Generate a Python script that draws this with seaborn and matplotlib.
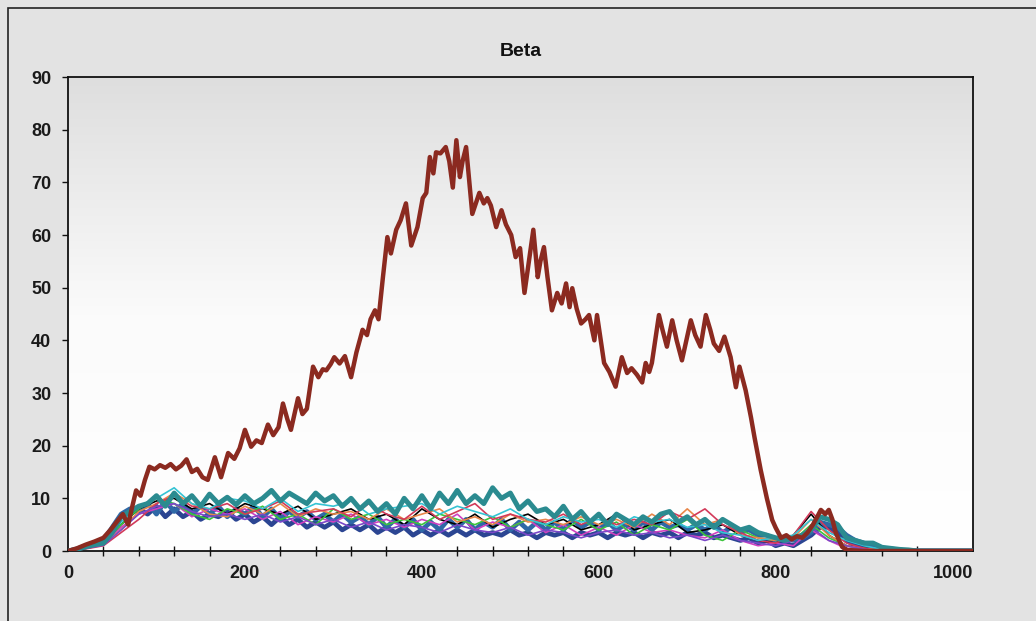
import numpy as np
import pandas as pd
import matplotlib
matplotlib.use("Agg")
import matplotlib.pyplot as plt
from matplotlib.patches import Rectangle
from matplotlib.ticker import MultipleLocator
import seaborn as sns

TITLE = "Beta"

red_x = [0, 10, 20, 30, 40, 48, 55, 62, 68, 72, 77, 82, 87, 92, 98, 104, 110, 116, 122, 128,
         134, 140, 146, 152, 158, 166, 173, 181, 188, 194, 200, 207, 213, 219, 226, 232, 238,
         243, 248, 252, 260, 265, 270, 277, 283, 288, 292, 297, 301, 307, 313, 320, 326, 333,
         338, 342, 347, 351, 356, 361, 365, 371, 376, 382, 388, 395, 401, 405, 409, 413, 416,
         421, 427, 431, 435, 439, 443, 446, 450, 457, 461, 465, 470, 474, 478, 484, 490, 495,
         501, 506, 511, 516, 521, 526, 531, 534, 538, 542, 547, 553, 558, 563, 567, 570, 575,
         580, 585, 589, 595, 598, 606, 612, 619, 626, 632, 637, 643, 649, 653, 657, 660, 668,
         672, 677, 683, 688, 694, 699, 704, 709, 715, 721, 726, 730, 736, 742, 749, 755, 759,
         766, 772, 776, 783, 790, 796, 800, 806, 812, 818, 824, 830, 836, 842, 847, 851, 856,
         860, 864, 868, 875, 880, 900, 1023]
red_y = [0, 0.5, 1.2, 1.8, 2.5, 4, 5.5, 7, 5, 8, 11.5, 10.5, 13.5, 16, 15.5, 16.3, 15.8, 16.5, 15.5, 16.2,
         17.4, 15, 15.6, 14, 13.5, 17.8, 14, 18.6, 17.5, 19.5, 23, 19.8, 21, 20.5, 24, 22, 23.5,
         28, 25, 23, 29, 26, 27, 35, 33, 34.5, 34.3, 35.5, 36.8, 35.6, 37, 33, 37.7, 42,
         41, 44, 45.7, 44, 52, 59.6, 56.5, 61, 62.8, 66, 58, 61.5, 67, 68, 74.8, 71.7, 75.7,
         75.5, 76.7, 74, 69, 78, 71, 74, 76.7, 64, 66, 68, 66, 67, 65.6, 61.5, 64.7, 62,
         60, 55.8, 57.5, 49, 55, 61, 52, 55, 57.7, 52, 45.7, 49, 47, 50.8, 46.3, 49.9, 46,
         43.2, 44, 44.8, 40, 44.8, 35.7, 34, 31.2, 36.8, 33.8, 34.7, 33.5, 32, 35.7, 34, 35.7, 44.8,
         42, 38.8, 43.8, 40, 36.2, 40, 43.8, 41, 38.8, 44.8, 42, 39.4, 38, 40.7, 36.8, 31.1, 35,
         30.5, 25.4, 21.6, 15.4, 10, 5.9, 4.4, 2.5, 3, 2.2, 2.8, 2.5, 3.5, 5, 6.5, 7.8, 7,
         7.8, 6, 3.4, 0.8, 0.2, 0, 0]

# lineas gruesas: una muestra cada 10 unidades (0..960) y el final en 1023
thick_x = list(range(0, 961, 10)) + [1023]
teal_y = [0, 0.3, 0.8, 1.2, 1.5, 3.5, 6.5, 7.5, 8.5, 9,
          10.5, 8.5, 11, 9, 10.5, 8.5, 10.8, 9, 10.2, 8.8,
          10.5, 9, 10, 11.5, 9.5, 11, 10, 9, 11, 9.5,
          10.5, 8.5, 10, 8, 9.5, 7.5, 9, 7, 10, 8,
          10.5, 8, 11, 9, 11.5, 9, 10.5, 9, 12, 10,
          11, 8, 9.5, 7.5, 8, 6.5, 8.5, 6, 7.5, 5.5,
          7, 5, 7, 6, 5, 6.5, 5.5, 7, 7.5, 5.5,
          6.5, 5, 6, 4.5, 6, 5, 4, 4.5, 3.5, 3,
          2.5, 2, 2.5, 3, 4, 6.5, 6, 5, 2.5, 2,
          1.5, 1.5, 0.7, 0.5, 0.3, 0.2, 0, 0]
steel_y = [0, 0.4, 1, 1.5, 2, 4.5, 7, 8, 7.5, 9,
           7, 9.5, 7.5, 9, 7, 8.5, 7, 8.5, 6.5, 8,
           7, 8.5, 6.5, 8, 6, 7.5, 6.5, 7.5, 6, 7,
           5.5, 7, 5.5, 6.5, 5, 6.5, 4.5, 6, 4.5, 6,
           4, 5.5, 4, 6, 4.5, 6, 4, 5.5, 4.5, 6,
           4, 5.5, 4, 5.5, 4, 5.5, 4, 6, 4.5, 5.5,
           4, 5.5, 4, 5, 4, 5.5, 4, 5.5, 4.5, 5,
           4, 5, 4, 5, 3.5, 4.5, 3.5, 4, 3, 3,
           2, 2.5, 2, 2.5, 3.5, 5.5, 5, 4.5, 3, 2,
           1.5, 1, 0.5, 0.4, 0.2, 0, 0, 0]
navy_y = [0, 0.2, 0.8, 1.2, 1.8, 4, 6.5, 7, 8, 7,
          8.5, 6.5, 8, 6.5, 7.5, 6, 7, 6.5, 7.5, 6,
          7, 5.5, 6.5, 5, 6.5, 5, 6, 4.5, 5.5, 4.5,
          5.5, 4, 5, 4, 5, 3.5, 4.5, 3.5, 4.5, 3,
          4, 3, 4, 3, 4, 3, 4, 3, 3.5, 3,
          4, 3, 3.5, 2.5, 3.5, 3, 3.5, 2.5, 3.5, 3,
          3.5, 2.5, 3.5, 3, 3.5, 2.5, 3.5, 3, 3.5, 2.5,
          3.5, 3, 3.5, 2.5, 3, 2.5, 2, 2.5, 1.5, 2,
          1, 1.5, 1, 2, 3, 4.5, 4.5, 3.5, 2, 1,
          1, 0.5, 0.3, 0.2, 0, 0, 0, 0]

# lineas finas: una muestra cada 20 unidades (0..940) y el final en 1023
thin_x = list(range(0, 941, 20)) + [1023]
thin_series = {
    "black": [0, 0.8, 1.5, 5, 8, 9.5, 10, 8, 9, 7,
              9, 8, 7, 8.5, 6, 7, 8, 6, 7, 5,
              8, 6, 5, 7, 4.5, 6, 7, 5, 6, 4,
              5, 7, 4, 5, 6, 3.5, 4, 5, 3, 2,
              1.5, 3, 7, 3, 1, 0.5, 0.2, 0, 0],
    "#d040c0": [0, 0.5, 1.2, 4.5, 7, 8, 9, 6.5, 8, 7,
                8, 6, 7.5, 5, 6.5, 5.5, 7, 5, 6, 4.5,
                6, 5, 7, 4, 5.5, 4.5, 6, 3.5, 5, 3,
                4.5, 3, 5, 3.5, 4, 3, 2.5, 4, 2, 1,
                1.5, 1, 4, 2, 0.5, 0.3, 0, 0, 0],
    "#3cc43c": [0, 0.6, 1.4, 5, 8, 10, 9, 7, 6, 8,
                7, 8.5, 6, 7, 5, 8, 6, 7, 5, 6,
                5, 7, 6, 5, 6.5, 4.5, 6, 5, 4, 6,
                4, 5.5, 3, 5, 4, 6, 3, 2, 4, 2.5,
                2, 2, 5, 2.5, 1, 0.3, 0, 0, 0],
    "#e8874a": [0, 0.7, 1.3, 4, 7.5, 9, 11, 9, 7, 6.5,
                8.5, 7, 9, 6.5, 8, 7, 7.5, 6, 8, 6,
                7, 8, 5.5, 6.5, 5, 7, 5.5, 6, 5, 6.5,
                5, 6, 4.5, 7, 5, 8, 5, 6, 3, 2.5,
                2, 2.5, 6, 3, 1, 0.5, 0.2, 0, 0],
    "#d23a5a": [0, 0.4, 1, 3.5, 6, 9, 10.5, 8.5, 8, 9,
                7, 8, 9.5, 7, 7.5, 8, 6.5, 9, 7, 6,
                8.5, 6, 7.5, 9, 6, 7, 6, 5.5, 7, 5,
                6.5, 5, 6, 5, 7.5, 6, 8, 5, 3.5, 2,
                1.5, 3, 7.5, 4, 1.5, 0.5, 0, 0, 0],
    "#35c3d3": [0, 0.5, 1.6, 5.5, 8.5, 10, 12, 9, 8, 10,
                9.5, 8, 10, 7.5, 9, 8.5, 9.5, 7, 8, 8.5,
                9, 7, 8.5, 7.5, 6.5, 8, 6, 5, 6.5, 5.5,
                6, 4.5, 6.5, 5.5, 6, 4.5, 5, 3.5, 3, 2,
                2.5, 3, 6, 3.5, 2, 1, 0.3, 0, 0],
    "#7a48c8": [0, 0.5, 1.1, 4, 7, 8.5, 9, 7.5, 6.5, 7,
                6, 7, 5.5, 6.5, 5, 6, 4.5, 5.5, 4, 5,
                4.5, 3.5, 5, 4, 3.5, 4.5, 3, 4, 3.5, 2.5,
                3.5, 4, 3, 3.5, 2.5, 3, 2, 3, 2, 1.5,
                1, 2, 4.5, 2, 1, 0.3, 0, 0, 0],
}

X_TICKS = [0, 200, 400, 600, 800, 1000]
Y_TICKS = [0, 10, 20, 30, 40, 50, 60, 70, 80, 90]


def draw_chart():
    sns.set_theme(style="white")
    plt.rcParams["font.family"] = ["Liberation Sans", "DejaVu Sans"]

    fig = plt.figure(figsize=(10.36, 6.21), dpi=100, facecolor="#e3e3e3")
    ax = fig.add_axes([68 / 1036, 1 - 551 / 621, 905 / 1036, 474 / 621])

    # fondo degradado del area del grafico
    grad = np.linspace(0, 1, 256).reshape(-1, 1)
    ax.imshow(grad, cmap=matplotlib.colors.LinearSegmentedColormap.from_list(
        "bg", ["#ffffff", "#fbfbfb", "#dedede"]),
        extent=[0, 1, 0, 1], transform=ax.transAxes, origin="lower",
        aspect="auto", zorder=0)

    for i, y in enumerate([navy_y, steel_y]):
        col = ["#2b4592", "#2f68a6"][i]
        sns.lineplot(x=thick_x, y=y, ax=ax, color=col, lw=3.4, zorder=2)
    for col, vals in thin_series.items():
        sns.lineplot(x=thin_x, y=vals, ax=ax, color=col, lw=1.2, zorder=3)
    sns.lineplot(x=thick_x, y=teal_y, ax=ax, color="#2b8b90", lw=3.6, zorder=4)
    sns.lineplot(x=red_x, y=red_y, ax=ax, color="#8b2a20", lw=3.2, zorder=5)

    ax.set_xlim(0, 1023)
    ax.set_ylim(0, 90)
    ax.set_xticks(X_TICKS)
    ax.set_yticks(Y_TICKS)
    ax.xaxis.set_minor_locator(MultipleLocator(40))
    ax.set_xlabel("")
    ax.set_ylabel("")

    for sp in ax.spines.values():
        sp.set_visible(True)
        sp.set_color("#111111")
        sp.set_linewidth(1.3)

    ax.tick_params(axis="x", which="major", direction="inout", length=8, width=1,
                   color="#111111", pad=6, labelsize=13, labelcolor="#1a1a1a")
    ax.tick_params(axis="x", which="minor", direction="inout", length=7, width=1,
                   color="#111111", bottom=True)
    ax.tick_params(axis="y", which="major", direction="out", length=4, width=1,
                   color="#111111", pad=8, labelsize=13, labelcolor="#1a1a1a", left=True)
    for lab in ax.get_xticklabels() + ax.get_yticklabels():
        lab.set_fontweight("bold")

    ax.set_title(TITLE, fontsize=14, fontweight="bold", color="#111111", pad=15)

    # marco exterior (solo se ven los bordes superior e izquierdo)
    fig.patches.append(Rectangle((8 / 1036, -0.1), 1.2, 1.1 - 8 / 621, fill=False,
                                 edgecolor="#222222", lw=1.2,
                                 transform=fig.transFigure, figure=fig))
    fig.savefig("out.png", dpi=100, facecolor=fig.get_facecolor())


if __name__ == "__main__":
    draw_chart()
